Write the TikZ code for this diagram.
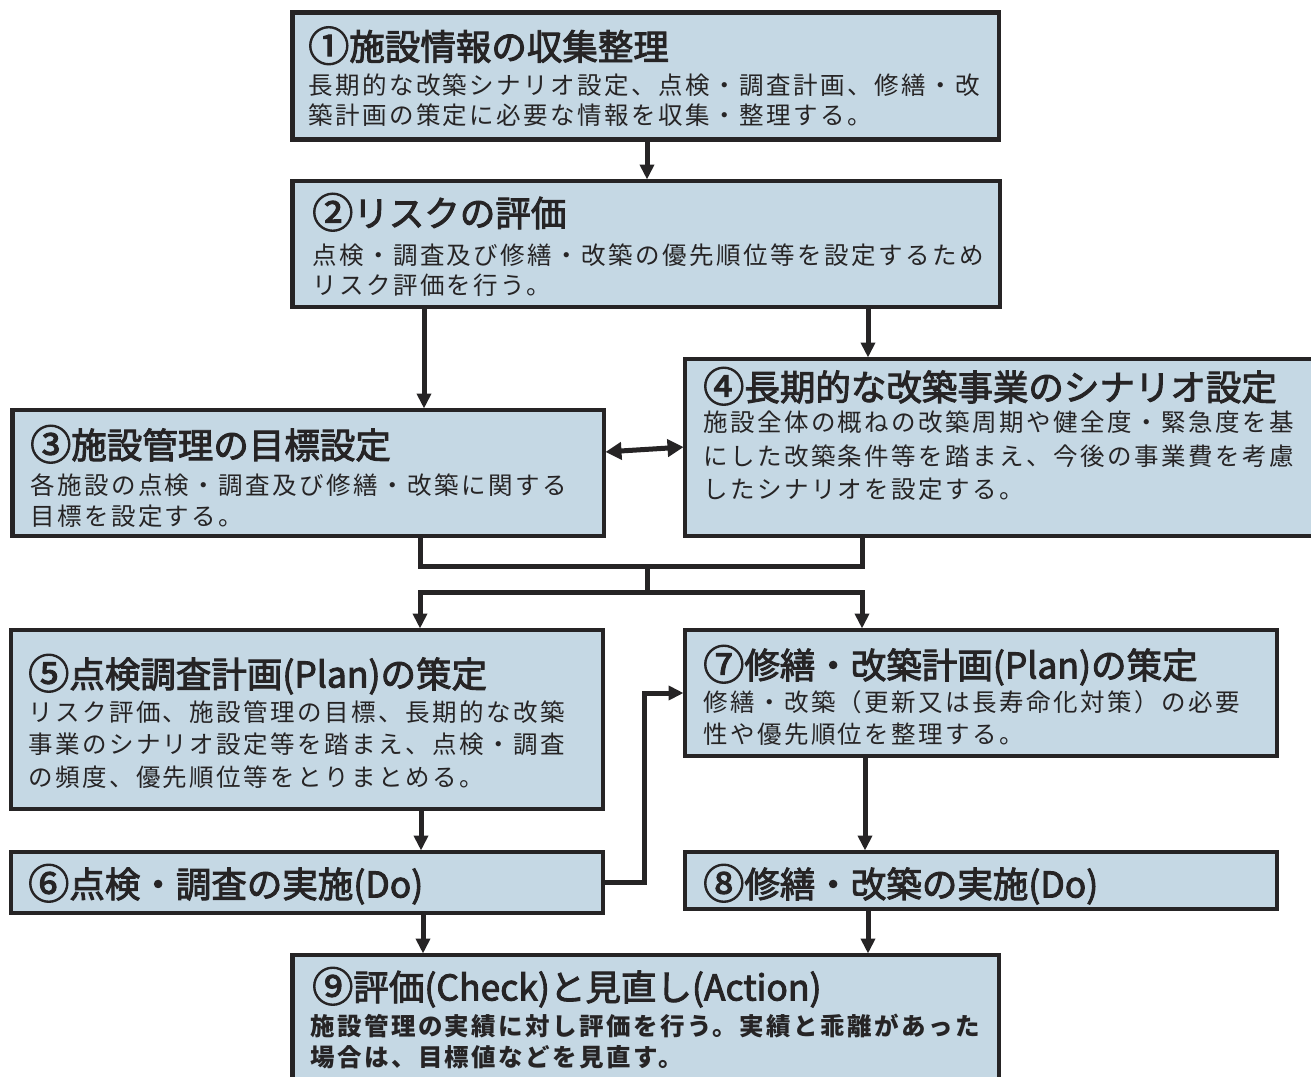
\documentclass[tikz,border=0pt]{standalone}
\usepackage{fontspec}
\newfontfamily\jp{Noto Sans CJK JP}
\newfontfamily\jpt{Noto Sans CJK JP}[FakeBold=2.6]
\newfontfamily\jpsp{Noto Sans CJK JP}[LetterSpace=10]
\usetikzlibrary{arrows.meta}
\definecolor{boxfill}{RGB}{197,216,228}
\definecolor{ink}{RGB}{38,36,37}
\newcommand\cnum[1]{\raisebox{-0.04em}{\scalebox{1.16}{#1}}}
\tikzset{
  box/.style={rectangle, draw=ink, line width=4.5pt, fill=boxfill, inner sep=0pt, outer sep=0pt, anchor=north west},
  ttl/.style={anchor=west, inner sep=0pt, text=ink, font=\jpt\fontsize{35.5}{40}\selectfont, text height=31.2pt, text depth=4.3pt},
  bdy/.style={anchor=west, inner sep=0pt, text=ink, font=\jpsp\fontsize{24.5}{28}\selectfont, text height=21.6pt, text depth=2.9pt},
  bdyb/.style={bdy, font=\jpsp\bfseries\fontsize{24.5}{28}\selectfont},
  conn/.style={draw=ink, line width=5pt},
  arr/.style={conn, -{Triangle[length=15pt,width=14pt]}, shorten >=1.5pt},
  dbl/.style={conn, {Triangle[length=16pt,width=17pt]}-{Triangle[length=16pt,width=17pt]}, shorten >=1.5pt, shorten <=1.5pt}
}
\begin{document}
\begin{tikzpicture}[x=1pt, y=-1pt]
\useasboundingbox (0,0) rectangle (1311,1076);
\clip (0,0) rectangle (1311,1076);
\fill[white] (0,0) rectangle (1311,1076);

% boxes
\node[box, minimum width=706.5pt, minimum height=127pt] (b1) at (292.5,12.5) {};
\node[box, minimum width=707.5pt, minimum height=126pt] (b2) at (292.5,181) {};
\node[box, minimum width=591.5pt, minimum height=126pt] (b3) at (12.5,410) {};
\node[box, minimum width=660pt, minimum height=177pt] (b4) at (685,359) {};
\node[box, minimum width=592pt, minimum height=179pt] (b5) at (11,630) {};
\node[box, minimum width=592pt, minimum height=61pt] (b6) at (11,852) {};
\node[box, minimum width=592pt, minimum height=126pt] (b7) at (685,630) {};
\node[box, minimum width=592pt, minimum height=57pt] (b8) at (685,852) {};
\node[box, minimum width=706.5pt, minimum height=170pt] (b9) at (292.5,955) {};

% helper coordinates
\coordinate (x647) at (647,0);
\coordinate (x424) at (424,0);
\coordinate (x868) at (868,0);
\coordinate (x421) at (421,0);
\coordinate (x865) at (865,0);
\coordinate (x423) at (423,0);
\coordinate (y452) at (0,452);
\coordinate (y447) at (0,447);
\coordinate (j1) at (420,566);
\coordinate (j2) at (862,566);
\coordinate (j3) at (647,566);
\coordinate (j4) at (647,592);
\coordinate (j5) at (420,592);
\coordinate (j6) at (862,592);
\coordinate (c67) at (644,693);

% connectors
\draw[arr] (b1.south -| x647) -- (b2.north -| x647);
\draw[arr] (b2.south -| x424) -- (b3.north -| x424);
\draw[arr] (b2.south -| x868) -- (b4.north -| x868);
\draw[dbl] (b3.east |- y452) -- (b4.west |- y447);
\draw[conn] (b3.south -| j1) -- (j1) -- (j2) -- (b4.south -| j2);
\draw[conn] (j3) -- (j4);
\draw[conn, {Triangle[length=15pt,width=14pt]}-{Triangle[length=15pt,width=14pt]}, shorten >=1.5pt, shorten <=1.5pt] (b5.north -| j5) -- (j5) -- (j6) -- (b7.north -| j6);
\draw[arr] (b5.south -| x421) -- (b6.north -| x421);
\draw[arr] (b6.east) -| (c67) -- (b7.west |- c67);
\draw[arr] (b7.south -| x865) -- (b8.north -| x865);
\draw[arr] (b6.south -| x423) -- (b9.north -| x423);
\draw[arr] (b8.south -| x868) -- (b9.north -| x868);

% texts
\node[ttl] (t1) at (308,46.5) {\cnum{①}施設情報の収集整理};
\node[bdy] (d1a) at (308,85) {長期的な改築シナリオ設定、点検・調査計画、修繕・改};
\node[bdy] (d1b) at (308,115) {築計画の策定に必要な情報を収集・整理する。};

\node[ttl] (t2) at (312,213) {\cnum{②}リスクの評価};
\node[bdy] (d2a) at (312,255) {点検・調査及び修繕・改築の優先順位等を設定するため};
\node[bdy] (d2b) at (312,285) {リスク評価を行う。};

\node[ttl] (t3) at (30,445) {\cnum{③}施設管理の目標設定};
\node[bdy] (d3a) at (30,485) {各施設の点検・調査及び修繕・改築に関する};
\node[bdy] (d3b) at (30,516) {目標を設定する。};

\node[ttl] (t4) at (703,387) {\cnum{④}長期的な改築事業のシナリオ設定};
\node[bdy] (d4a) at (703,422) {施設全体の概ねの改築周期や健全度・緊急度を基};
\node[bdy] (d4b) at (703,456) {にした改築条件等を踏まえ、今後の事業費を考慮};
\node[bdy] (d4c) at (703,489) {したシナリオを設定する。};

\node[ttl] (t5) at (28,674) {\cnum{⑤}点検調査計画(Plan)の策定};
\node[bdy] (d5a) at (28,712) {リスク評価、施設管理の目標、長期的な改築};
\node[bdy] (d5b) at (28,744) {事業のシナリオ設定等を踏まえ、点検・調査};
\node[bdy] (d5c) at (28,777) {の頻度、優先順位等をとりまとめる。};

\node[ttl] (t6) at (28,884) {\cnum{⑥}点検・調査の実施(Do)};

\node[ttl] (t7) at (703,665) {\cnum{⑦}修繕・改築計画(Plan)の策定};
\node[bdy] (d7a) at (703,702) {修繕・改築（更新又は長寿命化対策）の必要};
\node[bdy] (d7b) at (703,734) {性や優先順位を整理する。};

\node[ttl] (t8) at (703,884) {\cnum{⑧}修繕・改築の実施(Do)};

\node[ttl] (t9) at (312,987) {\cnum{⑨}評価(Check)と見直し(Action)};
\node[bdyb] (d9a) at (310,1026) {施設管理の実績に対し評価を行う。実績と乖離があった};
\node[bdyb] (d9b) at (310,1057) {場合は、目標値などを見直す。};
\end{tikzpicture}
\end{document}
